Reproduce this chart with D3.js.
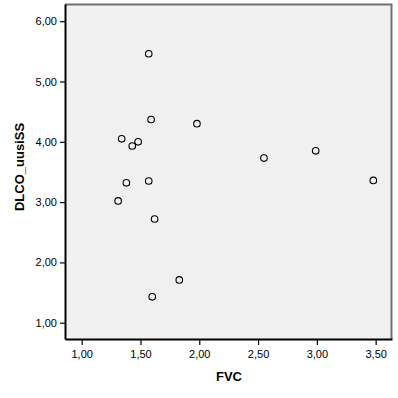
<!DOCTYPE html>
<html>
<head>
<meta charset="utf-8">
<script src="https://cdn.jsdelivr.net/npm/d3@7"></script>
<style>
  body { margin: 0; background: #fff; }
  svg { display: block; font-family: "Liberation Sans", Arial, sans-serif; }
</style>
</head>
<body>
<svg width="398" height="398"></svg>
<script>
/*
Data
*/
var fvc  = [1.57, 1.59, 1.98, 1.34, 1.43, 1.48, 1.38, 1.57, 1.31, 1.62, 1.83, 1.60, 2.55, 2.99, 3.48];
var dlco = [5.46, 4.37, 4.30, 4.05, 3.93, 4.00, 3.32, 3.35, 3.02, 2.72, 1.71, 1.43, 3.73, 3.85, 3.36];
var xTicks = [1.0, 1.5, 2.0, 2.5, 3.0, 3.5];
var yTicks = [1, 2, 3, 4, 5, 6];

var points = fvc.map(function(v, i) { return {x: v, y: dlco[i]}; });

var svg = d3.select("svg"),
    margin = {top: 4, right: 6, bottom: 59, left: 65},
    width = 398 - margin.left - margin.right,
    height = 398 - margin.top - margin.bottom,
    g = svg.append("g").attr("transform", "translate(" + margin.left + "," + margin.top + ")");

var xScale = d3.scaleLinear().domain([0.858, 3.639]).range([0, width]),
    yScale = d3.scaleLinear().domain([0.73, 6.285]).range([height, 0]);

var fmt = function(d) { return d3.format(".2f")(d).replace(".", ","); };

// plot background with grey top/right frame
g.append("rect")
    .attr("width", width)
    .attr("height", height)
    .attr("fill", "#f0f0f0")
    .attr("stroke", "none");

g.append("path")
    .attr("d", "M0,0.5H" + (width - 0.5) + "V" + height)
    .attr("fill", "none")
    .attr("stroke", "#707070")
    .attr("stroke-width", 2);

// axes
var xAxis = g.append("g")
    .attr("transform", "translate(0," + height + ")")
    .call(d3.axisBottom(xScale).tickValues(xTicks).tickFormat(fmt).tickSize(6).tickSizeOuter(0));

var yAxis = g.append("g")
    .call(d3.axisLeft(yScale).tickValues(yTicks).tickFormat(fmt).tickSize(5).tickSizeOuter(0));

[xAxis, yAxis].forEach(function(ax) {
  ax.select(".domain").attr("stroke", "#000").attr("stroke-width", 2);
  ax.selectAll(".tick line").attr("stroke", "#000").attr("stroke-width", 1.2);
  ax.selectAll(".tick text")
      .attr("fill", "#000")
      .style("font-size", "11px")
      .style("font-family", "'Liberation Sans', Arial, sans-serif");
});
xAxis.selectAll(".tick text").attr("dy", "0.95em");

// points
g.selectAll(".dot")
    .data(points)
    .enter().append("circle")
    .attr("class", "dot")
    .attr("cx", function(d) { return xScale(d.x); })
    .attr("cy", function(d) { return yScale(d.y); })
    .attr("r", 3.3)
    .attr("fill", "none")
    .attr("stroke", "#000")
    .attr("stroke-width", 1.1);

// axis titles
svg.append("text")
    .attr("x", 229)
    .attr("y", 381)
    .attr("text-anchor", "middle")
    .style("font-size", "13px")
    .style("font-weight", "bold")
    .text("FVC");

svg.append("text")
    .attr("transform", "translate(24,167)rotate(-90)")
    .attr("text-anchor", "middle")
    .style("font-size", "13px")
    .style("font-weight", "bold")
    .text("DLCO_uusiSS");
</script>
</body>
</html>
